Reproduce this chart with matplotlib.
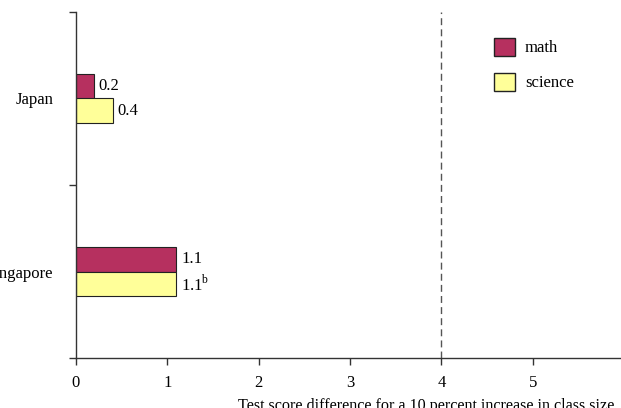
import matplotlib
matplotlib.use('Agg')
import matplotlib.pyplot as plt
from matplotlib.patches import Patch
import numpy as np

plt.rcParams['font.family'] = ['Liberation Serif', 'DejaVu Serif']
plt.rcParams['mathtext.fontset'] = 'custom'
plt.rcParams['mathtext.rm'] = 'Liberation Serif'

# Data
countries = ['Singapore', 'Japan']
math_vals = [1.1, 0.2]
science_vals = [1.1, 0.4]
math_labels = ['1.1', '0.2']
science_labels = ['1.1$^{\\mathrm{b}}$', '0.4']
ref_line = 4
x_ticks = [0, 1, 2, 3, 4, 5, 6]
xlabel = 'Test score difference for a 10 percent increase in class size'

MATH_COLOR = '#B6305F'
SCI_COLOR = '#FFFF99'
FS = 12

fig = plt.figure(figsize=(6.21, 4.08), dpi=100)
ax = fig.add_axes([76 / 621, 1 - 358 / 408, 548 / 621, 346 / 408])

y = np.arange(len(countries))
h = 0.142
ax.barh(y + h / 2, math_vals, height=h, color=MATH_COLOR, edgecolor='#222222', linewidth=0.8)
ax.barh(y - h / 2, science_vals, height=h, color=SCI_COLOR, edgecolor='#222222', linewidth=0.8)

for yi, v, lab in zip(y, math_vals, math_labels):
    ax.text(v + 0.05, yi + h / 2, lab, va='center', ha='left', fontsize=FS)
for yi, v, lab in zip(y, science_vals, science_labels):
    ax.text(v + 0.05, yi - h / 2, lab, va='center', ha='left', fontsize=FS)

ax.axvline(ref_line, color='#555555', linestyle=(0, (5, 3)), linewidth=1)

ax.set_xlim(0, 6)
ax.set_ylim(-0.5, len(countries) - 0.5)
ax.set_xticks(x_ticks)
ax.set_xticklabels([str(t) for t in x_ticks], fontsize=FS)
ax.set_yticks(y)
ax.set_yticklabels(countries, fontsize=FS)
ax.tick_params(axis='y', which='major', length=0, pad=16)
ax.set_yticks(np.arange(-0.5, len(countries), 1.0), minor=True)
ax.tick_params(axis='y', which='minor', length=5, width=1, color='#333333')
ax.tick_params(axis='x', length=5, width=1, color='#333333', pad=7)

for side in ['top', 'right']:
    ax.spines[side].set_visible(False)
for side in ['left', 'bottom']:
    ax.spines[side].set_color('#333333')
    ax.spines[side].set_linewidth(1)

fig.text(238 / 621, 1 - 398 / 408, xlabel, ha='left', va='top', fontsize=11.6)

handles = [Patch(facecolor=MATH_COLOR, edgecolor='#222222', label='math'),
           Patch(facecolor=SCI_COLOR, edgecolor='#222222', label='science')]
fig.legend(handles=handles, loc='upper left', bbox_to_anchor=(479 / 621, 1 - 23 / 408),
           frameon=False, fontsize=FS, handlelength=1.25, handleheight=1.25,
           labelspacing=1.0, handletextpad=0.6)

fig.savefig('out.png', dpi=100)
